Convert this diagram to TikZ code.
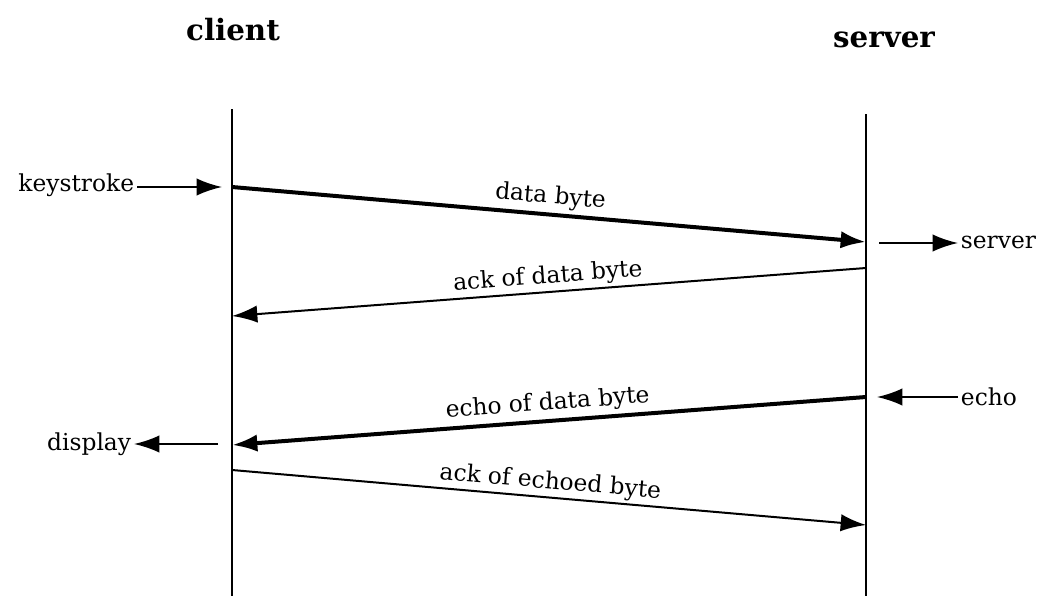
\documentclass[tikz,border=0pt]{standalone}
\usepackage{fontspec}
\setmainfont{DejaVu Serif}
\usetikzlibrary{arrows.meta}
\begin{document}
\begin{tikzpicture}[x=0.75pt,y=-0.75pt,
  lifeline/.style={line width=1.4pt},
  tipstyle/.style={-{Latex[length=19pt,width=13pt]}},
  heavymsg/.style={line width=3pt,tipstyle},
  lightmsg/.style={line width=1.5pt,tipstyle},
  sidearrow/.style={line width=1.5pt,tipstyle},
  lbl/.style={font=\fontsize{17.5}{20}\selectfont, inner sep=2pt},
  hdr/.style={font=\bfseries\fontsize{22}{25}\selectfont}]
\useasboundingbox (0,0) rectangle (1040,596);
\node[hdr] (client) at (233,30) {client};
\node[hdr] (server) at (884,40) {server};
\coordinate (ctop) at (232,109);
\coordinate (cbot) at (232,596);
\coordinate (stop) at (866,114);
\coordinate (sbot) at (866,596);
\draw[lifeline] (ctop) -- (cbot);
\draw[lifeline] (stop) -- (sbot);
\coordinate (c1) at (232,187);
\coordinate (s1) at (866,242);
\coordinate (s2) at (866,268);
\coordinate (c2) at (232,316);
\coordinate (s3) at (866,397);
\coordinate (c3) at (232,445);
\coordinate (c4) at (232,470);
\coordinate (s4) at (866,525);
\draw[heavymsg] (c1) -- node[lbl,midway,sloped,above,yshift=1pt] (l1) {data byte} (s1);
\draw[lightmsg] (s2) -- node[lbl,midway,sloped,above] (l2) {ack of data byte} (c2);
\draw[heavymsg] (s3) -- node[lbl,midway,sloped,above,yshift=1pt] (l3) {echo of data byte} (c3);
\draw[lightmsg] (c4) -- node[lbl,midway,sloped,above] (l4) {ack of echoed byte} (s4);
% side arrows
\node[lbl,anchor=east] (key) at (137,185) {keystroke};
\coordinate (keyend) at (222,187);
\draw[sidearrow] (key.east |- keyend) -- (keyend);
\node[lbl,anchor=west] (srv) at (958,242) {server};
\coordinate (srvstart) at (879,243);
\draw[sidearrow] (srvstart) -- (srv.west |- srvstart);
\node[lbl,anchor=west] (echo) at (958,397) {echo};
\coordinate (echoend) at (877,397);
\draw[sidearrow] (echo.west |- echoend) -- (echoend);
\node[lbl,anchor=east] (disp) at (134,444) {display};
\coordinate (dispstart) at (218,444);
\draw[sidearrow] (dispstart) -- (disp.east |- dispstart);
\end{tikzpicture}
\end{document}
